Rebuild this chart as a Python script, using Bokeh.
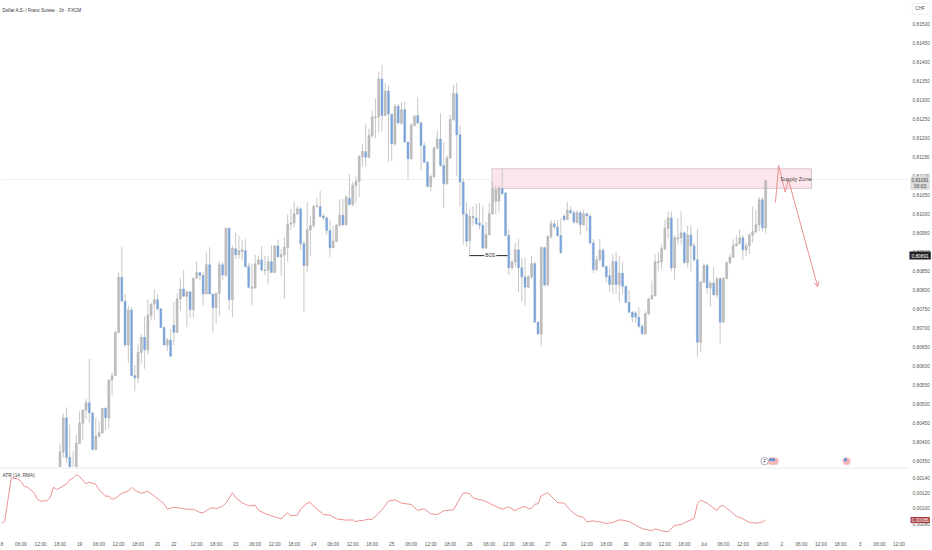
from bokeh.plotting import figure
from bokeh.layouts import column
from bokeh.models import (Range1d, FixedTicker, CustomJSTickFormatter, Label, Arrow, OpenHead,
                          ColumnDataSource)
from bokeh.embed import file_html
from bokeh.resources import INLINE
import numpy as np

FONT = "Liberation Sans"

# prices in 1e-5 CHF; bars are numbered from the first hour on the axis
first_bar = 18
opens = [
 80290,80374,80464,80360,80290,80330,80397,80450,80485,80504,
 80477,80381,80416,80425,80489,80464,80564,80575,80688,80834,
 80771,80656,80748,80575,80569,80636,80676,80643,80734,80764,
 80775,80751,80702,80656,80669,80708,80689,80777,80803,80784,
 80796,80749,80832,80846,80839,80790,80867,80790,80754,80792,
 80867,80840,80963,80775,80909,80894,80902,80904,80862,80805,
 80806,80869,80880,80853,80853,80875,80847,80916,80888,80893,
 80913,80974,80977,81001,81014,80922,80865,80959,80970,81020,
 81020,80995,80990,80957,80912,80929,80970,80997,80972,81042,
 81026,81076,81087,81152,81165,81150,81207,81254,81256,81356,
 81260,81324,81263,81185,81284,81240,81275,81190,81146,81234,
 81260,81240,81181,81137,81073,81099,81174,81198,81128,81080,
 81148,81249,81317,81209,81085,81000,80931,80990,80990,80977,
 80971,80911,80946,81001,81034,81034,81067,81056,80944,80859,
 80874,80906,80859,80835,80808,80835,80870,80716,80685,80912,
 80814,80941,80975,80966,80944,80995,80986,81010,81004,80979,
 81004,80972,81001,80995,80924,80854,80880,80905,80862,80838,
 80815,80875,80815,80845,80810,80768,80742,80740,80729,80705,
 80685,80738,80777,80786,80873,80875,80909,80963,80990,80859,
 80935,80938,80951,80873,80945,80917,80880,80663,80821,80865,
 80806,80819,80788,80830,80716,80831,80872,80887,80917,80923,
 80938,80906,80917,80945,80954,80972,81038,80964]
closes = [
 80374,80464,80360,80300,80330,80397,80450,80485,80504,80477,
 80381,80416,80425,80489,80464,80564,80575,80688,80834,80771,
 80656,80748,80575,80569,80636,80676,80643,80734,80764,80775,
 80751,80702,80656,80669,80626,80689,80777,80803,80784,80796,
 80749,80832,80846,80839,80790,80867,80790,80754,80792,80867,
 80840,80963,80775,80910,80894,80904,80906,80862,80808,80808,
 80869,80880,80853,80852,80875,80847,80916,80888,80893,80913,
 80974,80977,81001,81014,80922,80865,80959,80970,81020,81022,
 80994,80990,80957,80912,80929,80970,80997,80972,81045,81026,
 81076,81087,81152,81165,81150,81207,81256,81256,81356,81260,
 81324,81264,81185,81284,81240,81275,81190,81146,81234,81258,
 81240,81181,81137,81073,81099,81174,81198,81128,81080,81148,
 81249,81317,81209,81085,81000,80929,80994,80995,80975,80971,
 80911,80946,81001,81067,81064,81067,81054,80944,80859,80874,
 80906,80859,80835,80808,80835,80870,80716,80685,80912,80814,
 80941,80975,80966,80944,80899,80986,81010,81004,80979,81004,
 80972,81001,80995,80924,80854,80880,80905,80862,80835,80815,
 80875,80815,80845,80810,80768,80742,80729,80729,80705,80685,
 80738,80777,80786,80875,80875,80909,80963,80990,80859,80938,
 80938,80951,80873,80945,80917,80880,80663,80821,80865,80806,
 80819,80788,80830,80716,80831,80872,80887,80917,80923,80938,
 80906,80917,80945,80954,80972,81038,80964,81088]
highs = [
 80396,80476,80492,80446,80376,80420,80481,80486,80514,80619,
 80479,80464,80457,80489,80492,80564,80584,80694,80847,80915,
 80790,80760,80757,80603,80659,80685,80731,80775,80764,80803,
 80790,80753,80704,80675,80698,80768,80792,80832,80853,80796,
 80796,80832,80876,80848,80848,80900,80913,80790,80792,80874,
 80874,80965,80965,80918,80951,80944,80931,80935,80872,80870,
 80893,80892,80916,80891,80890,80919,80920,80933,80909,80940,
 81000,81014,81033,81022,81018,80930,81033,80995,81025,81043,
 81062,81000,80995,80985,80970,80975,81040,81040,81050,81105,
 81085,81100,81155,81185,81236,81225,81272,81305,81375,81392,
 81345,81340,81265,81290,81290,81295,81295,81190,81240,81260,
 81307,81245,81190,81140,81105,81180,81220,81265,81190,81155,
 81262,81340,81345,81232,81095,81030,81015,81020,81028,81030,
 81020,80980,81030,81085,81075,81075,81120,81058,80960,80880,
 80925,80935,80885,80885,80840,80890,80875,80718,80915,80915,
 80945,80985,80985,80985,80990,81000,81033,81020,81010,81010,
 81010,81012,81005,81000,80935,80890,80935,80910,80865,80860,
 80895,80900,80890,80875,80812,80800,80745,80745,80755,80710,
 80745,80780,80825,80895,80900,80920,80985,81007,81007,80945,
 80990,81008,80955,80970,80970,80925,80962,80825,80870,80870,
 80825,80862,80835,80835,80835,80875,80895,80935,80945,80960,
 80945,80925,80950,81020,81012,81045,81045,81090]
lows = [
 80270,80360,80345,80280,80280,80310,80395,80406,80461,80450,
 80378,80378,80411,80422,80431,80435,80523,80575,80688,80771,
 80650,80608,80575,80534,80555,80608,80593,80631,80720,80722,
 80747,80700,80654,80641,80626,80655,80689,80746,80782,80703,
 80727,80727,80830,80825,80760,80790,80790,80689,80713,80731,
 80827,80835,80747,80729,80883,80882,80878,80860,80805,80760,
 80804,80865,80850,80839,80815,80845,80845,80885,80838,80777,
 80875,80958,80965,80998,80905,80742,80848,80890,80965,81018,
 80992,80985,80945,80887,80910,80926,80970,80970,80970,81022,
 81020,81030,81045,81125,81125,81148,81200,81200,81215,81218,
 81260,81138,81140,81180,81238,81235,81188,81092,81145,81230,
 81238,81115,81135,81070,81060,81095,81170,81125,81016,81078,
 81145,81245,81100,81020,80920,80915,80892,80970,80970,80960,
 80908,80908,80945,81000,81000,81005,81050,80942,80840,80855,
 80860,80795,80770,80760,80805,80830,80714,80683,80655,80810,
 80810,80935,80960,80940,80895,80980,80985,81000,80975,80975,
 80945,80970,80955,80920,80845,80850,80875,80860,80820,80795,
 80790,80790,80770,80790,80765,80740,80715,80715,80700,80683,
 80683,80735,80775,80783,80850,80855,80905,80935,80850,80827,
 80920,80920,80870,80860,80850,80875,80625,80637,80818,80790,
 80757,80785,80780,80658,80714,80828,80868,80885,80915,80920,
 80880,80890,80895,80925,80950,80955,80955,80950]

# ATR (14, RMA), 1e-5 CHF, at the bars where the line could be read
atr_bars = [0,1,3,5,6,7,8,10,11,12,14,15,16,17,18,20,21,22,23,24,26,27,29,30,32,33,34,35,37,39,40,41,43,45,47,
 50,51,53,56,58,59,61,62,64,65,66,68,69,71,72,74,76,78,79,81,83,86,88,89,91,92,94,95,96,98,99,101,103,106,108,
 109,110,111,113,114,117,119,121,123,126,128,130,132,134,136,139,141,142,143,
 144,145,147,148,150,152,154,156,158,159,161,162,163,164,165,166,168,171,173,175,177,179,180,182,183,184,186,188,
 190,191,193,195,197,200,201,203,205,207,209,211,213,214,215,217,220,221,222,226,228,230,232,234,235]
atr_vals = [80.8,83.4,140.1,138.8,135.3,128.7,127.9,120.5,112.6,109.6,110.0,114.8,127.9,124.8,127.0,132.2,137.5,139.6,144.0,141.8,
 132.2,134.4,131.4,124.4,116.1,116.1,112.2,113.1,120.0,122.6,127.9,123.5,120.0,122.6,116.1,
 106.1,99.1,101.7,99.6,98.7,99.1,94.8,94.3,100.0,100.9,99.6,103.0,107.0,120.5,114.4,107.4,103.5,104.3,97.8,93.5,90.4,86.5,94.3,90.4,91.3,
 99.6,107.0,107.8,102.6,96.0,92.1,91.3,86.5,84.7,85.2,
 82.6,84.3,84.3,86.0,85.6,98.2,109.6,111.3,107.0,105.2,97.4,99.6,93.0,92.1,97.0,98.2,113.5,120.0,120.4,
 119.2,113.9,111.3,110.9,107.0,102.6,99.1,102.2,96.9,100.0,103.0,99.6,100.0,105.7,106.1,117.0,120.5,107.8,107.0,97.4,90.8,88.2,82.6,83.9,82.6,82.6,80.4,81.7,
 85.2,84.7,83.0,78.2,73.8,70.8,73.4,70.8,69.5,77.8,79.1,83.4,86.9,106.1,110.9,107.0,97.4,103.0,103.9,90.0,86.5,81.7,80.8,82.1,85.2]

price_ticks = [81500,81450,81400,81350,81300,81250,81200,81150,81100,81050,81000,80950,80900,80850,80800,
 80750,80700,80650,80600,80550,80500,80450,80400,80350]
atr_ticks = [140,120,100,80]
time_ticks = [0,6,12,18,24,30,36,42,48,53,60,66,72,78,84,90,96,102,108,114,120,126,132,138,144,150,156,162,168,173,
 180,186,192,198,204,210,216,222,228,234,240,246,252,258,264,270,276]
time_labels = ["8","06:00","12:00","18:00","19","06:00","12:00","18:00","20","22","12:00","18:00","23","06:00","12:00","18:00",
 "24","06:00","12:00","18:00","25","06:00","12:00","18:00","26","06:00","12:00","18:00","27","29","12:00","18:00","30",
 "06:00","12:00","18:00","Jul","06:00","12:00","18:00","2","06:00","12:00","18:00","3","06:00","12:00"]

zone_bars = [150.8, 249.1]
zone_prices = [81119.5, 81068]
bos_bars = [143.9, 150.3, 155.6]
bos_price = 80891
path_bars = [238, 239, 241, 242]
path_prices = [81031, 81128, 81058, 81091]
arrow_end = (251, 80809)
last_price = 81091
event_bars = [236.9, 237.8, 259.9]
event_price = 80350
f_event_bar = 234.7
pane_end_bar = 279

scale = 1e-5
bars = np.arange(first_bar, first_bar + len(opens))
o, h, l, c = [np.array(v) * scale for v in (opens, highs, lows, closes)]
up = c >= o
body_top = np.maximum(o, c)
body_bot = np.minimum(o, c)
src = ColumnDataSource(dict(
    x=bars, h=h, l=l, top=body_top, bot=body_bot,
    fill=["#c2c2c2" if u else "#7aa6e0" for u in up],
    edge=["#9a9a9a" if u else "#7f9fc8" for u in up],
))

x_range = Range1d(-0.31, 286.0)
fmt = CustomJSTickFormatter(code="return tick.toFixed(5).replace('.', ',');")

def style_price_axis(a, ticks):
    a.ticker = FixedTicker(ticks=[t * scale for t in ticks])
    a.formatter = fmt
    a.axis_line_color = None
    a.major_tick_line_color = None
    a.minor_tick_line_color = None
    a.major_tick_out = 0
    a.major_tick_in = 0
    a.minor_tick_out = 0
    a.minor_tick_in = 0
    a.major_label_standoff = -19
    a.major_label_text_font = FONT
    a.major_label_text_font_size = "4.8px"
    a.major_label_text_color = "#555555"

main = figure(width=932, height=467, x_range=x_range,
              y_range=Range1d(80333.4 * scale, 81562.4 * scale),
              y_axis_location="right", x_axis_location=None,
              toolbar_location=None, output_backend="svg",
              min_border_left=0, min_border_right=0, min_border_top=0, min_border_bottom=0)
main.outline_line_color = None
main.grid.visible = False
style_price_axis(main.yaxis[0], price_ticks)

main.line([x_range.start, pane_end_bar], [last_price * scale] * 2, line_color="#f1f1f1", line_width=1)

# supply zone under the candles
main.quad(left=[zone_bars[0]], right=[zone_bars[1]], top=[zone_prices[0] * scale], bottom=[zone_prices[1] * scale],
          fill_color="#fbe6ec", line_color="#d9c6cc", line_width=1)

main.segment("x", "h", "x", "l", source=src, line_color="#c8c8c8", line_width=1)
main.vbar(x="x", top="top", bottom="bot", width=0.6, source=src, fill_color="fill", line_color="edge", line_width=0.4)

# BOS
main.line([bos_bars[0], bos_bars[2]], [bos_price * scale] * 2, line_color="#222222", line_width=1)
main.add_layout(Label(x=bos_bars[1], y=bos_price * scale, text="BOS", text_font=FONT, text_font_size="4.8px",
                      text_color="#333333", text_align="center", text_baseline="middle",
                      background_fill_color="#ffffff", padding=1))

# red projected path
red = "#ec9090"
main.line(path_bars, [p * scale for p in path_prices], line_color=red, line_width=1)
main.add_layout(Arrow(end=OpenHead(size=5, line_color=red, line_width=1), line_color=red, line_width=1,
                      x_start=path_bars[-1], y_start=path_prices[-1] * scale,
                      x_end=arrow_end[0], y_end=arrow_end[1] * scale))
main.add_layout(Label(x=(zone_bars[1] + 239.5) / 2, y=(zone_prices[0] + zone_prices[1]) / 2 * scale, text="Supply Zone",
                      text_font=FONT, text_font_size="5.6px", text_color="#444444",
                      text_align="center", text_baseline="middle"))

# events
ev_y = [event_price * scale] * len(event_bars)
main.scatter(event_bars, ev_y, size=7.5, fill_color="#f6b6b6", line_color="#f2c9c9", line_width=0.5)
main.scatter([b - 0.35 for b in event_bars], [(event_price + 4) * scale] * len(event_bars), size=3.2, fill_color="#5b93d8", line_color=None)
main.scatter([f_event_bar], [event_price * scale], size=7.5, fill_color="#ffffff", line_color="#9a8aa0", line_width=0.7)
main.add_layout(Label(x=f_event_bar, y=event_price * scale, text="F", text_font=FONT, text_font_style="italic",
                      text_font_size="4.5px", text_color="#555555", text_align="center", text_baseline="middle"))

# title and right-hand tags
main.add_layout(Label(x=0.3, y=81535 * scale, text="Dollar A.S. / Franc Suisse · 1h · FXCM", text_font=FONT,
                      text_font_size="4.6px", text_color="#333333", text_baseline="middle"))
TAG = 282.5
tag_style = dict(x=TAG, text_font=FONT, text_align="center", text_baseline="middle", text_font_size="4.8px")
main.add_layout(Label(y=81541 * scale, text="CHF", text_color="#555555", background_fill_color="#ffffff",
                      border_line_color="#eeeeee", padding=3, **tag_style))
main.add_layout(Label(y=81081 * scale, text="0,81091\n00:03", text_color="#444444",
                      background_fill_color="#dcdcdc", padding=1, **tag_style))
main.add_layout(Label(y=bos_price * scale, text="0,80891", text_color="#ffffff",
                      background_fill_color="#202226", padding=2, **tag_style))

# ATR pane
atr = figure(width=932, height=83, x_range=x_range, y_range=Range1d(64.7 * scale, 153.6 * scale),
             y_axis_location="right", toolbar_location=None, output_backend="svg",
             min_border_left=0, min_border_right=0, min_border_top=0, min_border_bottom=15)
atr.outline_line_color = None
atr.grid.visible = False
style_price_axis(atr.yaxis[0], atr_ticks)
ax2 = atr.xaxis[0]
ax2.ticker = FixedTicker(ticks=time_ticks)
ax2.major_label_overrides = dict(zip(time_ticks, time_labels))
ax2.axis_line_color = None
ax2.major_tick_line_color = None
ax2.minor_tick_line_color = None
ax2.major_tick_out = 0
ax2.major_tick_in = 0
ax2.minor_tick_out = 0
ax2.minor_tick_in = 0
ax2.major_label_standoff = 6
ax2.major_label_text_font = FONT
ax2.major_label_text_font_size = "4.8px"
ax2.major_label_text_color = "#555555"

atr.line([x_range.start, pane_end_bar], [153.4 * scale] * 2, line_color="#eeeeee", line_width=2)
atr.line(atr_bars, [v * scale for v in atr_vals], line_color="#ee9090", line_width=1)
atr.add_layout(Label(x=0.3, y=143.5 * scale, text="ATR (14, RMA)", text_font=FONT, text_font_size="4.8px", text_color="#444444",
                     text_baseline="middle"))
atr.add_layout(Label(y=85 * scale, text="0,00086", text_color="#ffffff",
                     background_fill_color="#a83a3e", padding=1, **tag_style))

page = column(main, atr, spacing=0)
open("out.html", "w").write(file_html(page, INLINE))
